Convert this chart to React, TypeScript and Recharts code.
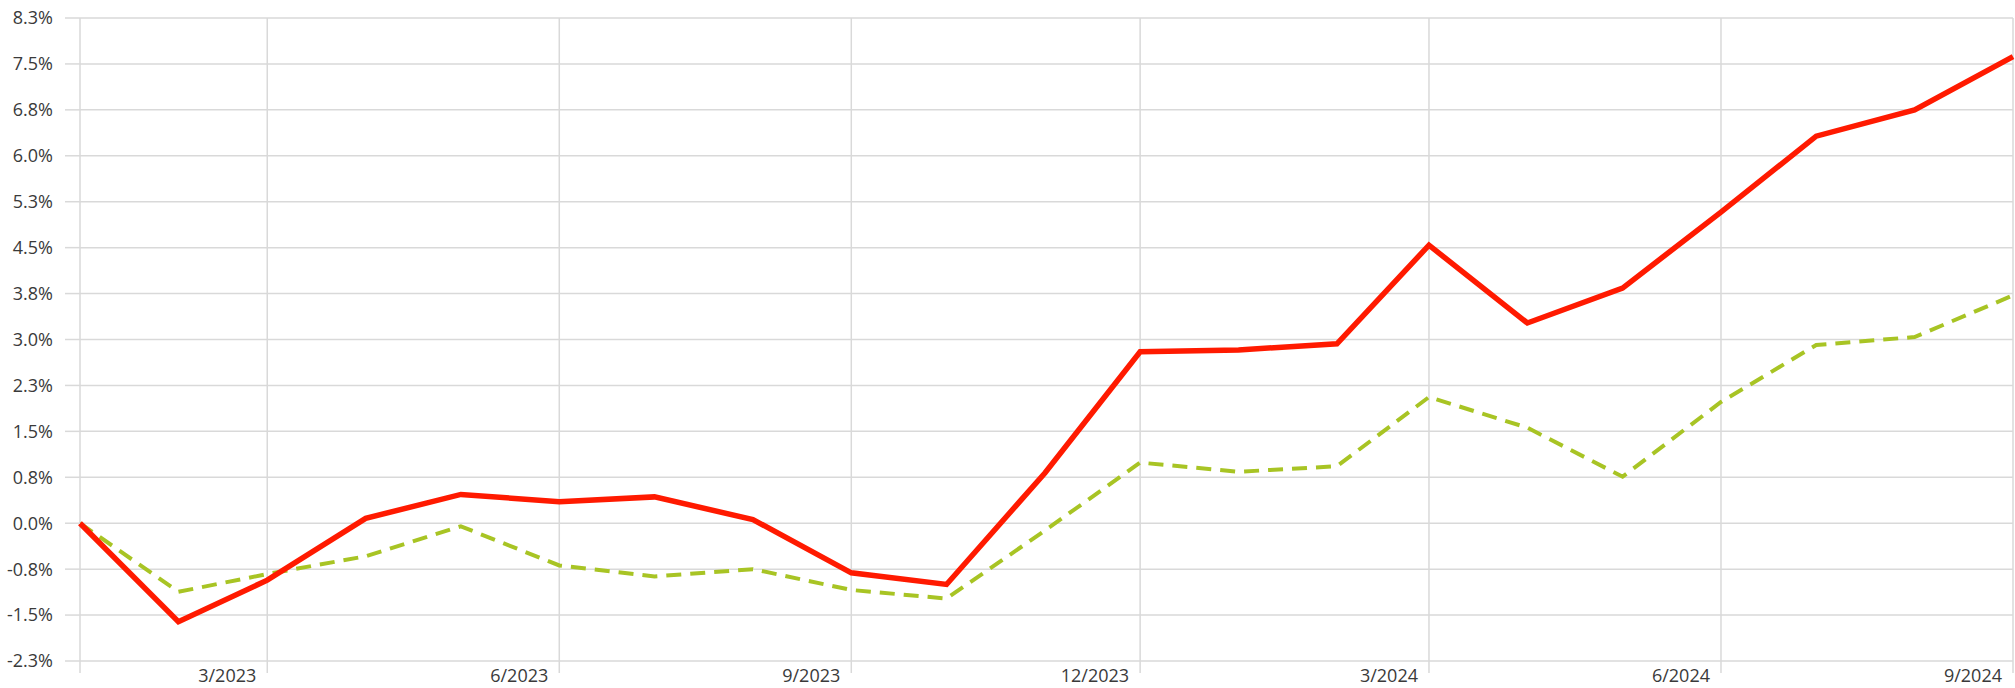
import React from "react";
import { LineChart, Line, XAxis, YAxis, CartesianGrid } from "recharts";

// monthly points, month/year
const months = [
  "1/2023", "2/2023", "3/2023", "4/2023", "5/2023", "6/2023", "7/2023",
  "8/2023", "9/2023", "10/2023", "11/2023", "12/2023", "1/2024", "2/2024",
  "3/2024", "4/2024", "5/2024", "6/2024", "7/2024", "8/2024", "9/2024",
];

// cumulative return, %
const redSeries = [
  0, -1.61, -0.93, 0.08, 0.47, 0.35, 0.43, 0.06, -0.81, -1.0, 0.82, 2.8,
  2.83, 2.93, 4.54, 3.27, 3.84, 5.08, 6.32, 6.75, 7.62,
];
const greenSeries = [
  0, -1.12, -0.83, -0.54, -0.05, -0.69, -0.87, -0.75, -1.09, -1.23, -0.12,
  0.99, 0.84, 0.93, 2.06, 1.56, 0.76, 1.98, 2.91, 3.04, 3.72,
];

const xTickMonths = ["1/2023", "3/2023", "6/2023", "9/2023", "12/2023", "3/2024", "6/2024", "9/2024"];
const yTicks = [-2.25, -1.5, -0.75, 0, 0.75, 1.5, 2.25, 3, 3.75, 4.5, 5.25, 6, 6.75, 7.5, 8.25];

const DAY = 86400000;
const BASE = Date.UTC(2023, 0, 1);

function dayOf(label: string) {
  const [m, y] = label.split("/").map(Number);
  return (Date.UTC(y, m - 1, 1) - BASE) / DAY;
}

function labelOf(day: number) {
  const d = new Date(BASE + day * DAY);
  return `${d.getUTCMonth() + 1}/${d.getUTCFullYear()}`;
}

const data = months.map((m, i) => ({
  day: dayOf(m),
  red: redSeries[i],
  green: greenSeries[i],
}));

const xTicks = xTickMonths.map(dayOf);
const GRID = "#d9d9d9";
const FONT = "'Open Sans', sans-serif";

function MonthTick(props: any) {
  const { x, y, payload } = props;
  if (payload.value === 0) return null;
  return (
    <text x={x - 11} y={y - 6} dy="0.71em" textAnchor="end" fill="#3a3a3a" fontSize={18} fontFamily={FONT}>
      {labelOf(payload.value)}
    </text>
  );
}

export default function App() {
  return (
    <div style={{ position: "absolute", left: 0, top: 0, background: "#fff" }}>
      <LineChart width={2015} height={688} data={data} margin={{ top: 18, right: 2, bottom: 0, left: 0 }}>
        <CartesianGrid stroke={GRID} strokeWidth={1.5} />
        <XAxis
          dataKey="day"
          type="number"
          domain={[0, dayOf("9/2024")]}
          ticks={xTicks}
          interval={0}
          height={27}
          axisLine={false}
          tickLine={{ stroke: GRID, strokeWidth: 1.5 }}
          tickSize={12}
          tick={<MonthTick />}
        />
        <YAxis
          type="number"
          domain={[-2.25, 8.25]}
          ticks={yTicks}
          interval={0}
          width={80}
          axisLine={false}
          tickLine={{ stroke: GRID, strokeWidth: 1.5 }}
          tickSize={15}
          tickMargin={12}
          tickFormatter={(v: number) => `${v.toFixed(1)}%`}
          tick={{ fill: "#3a3a3a", fontSize: 18, fontFamily: FONT }}
        />
        <Line
          type="linear"
          dataKey="green"
          stroke="#a8c424"
          strokeWidth={4}
          strokeDasharray="15 9"
          dot={false}
          isAnimationActive={false}
        />
        <Line
          type="linear"
          dataKey="red"
          stroke="#ff1a00"
          strokeWidth={5.5}
          dot={false}
          isAnimationActive={false}
        />
      </LineChart>
    </div>
  );
}
